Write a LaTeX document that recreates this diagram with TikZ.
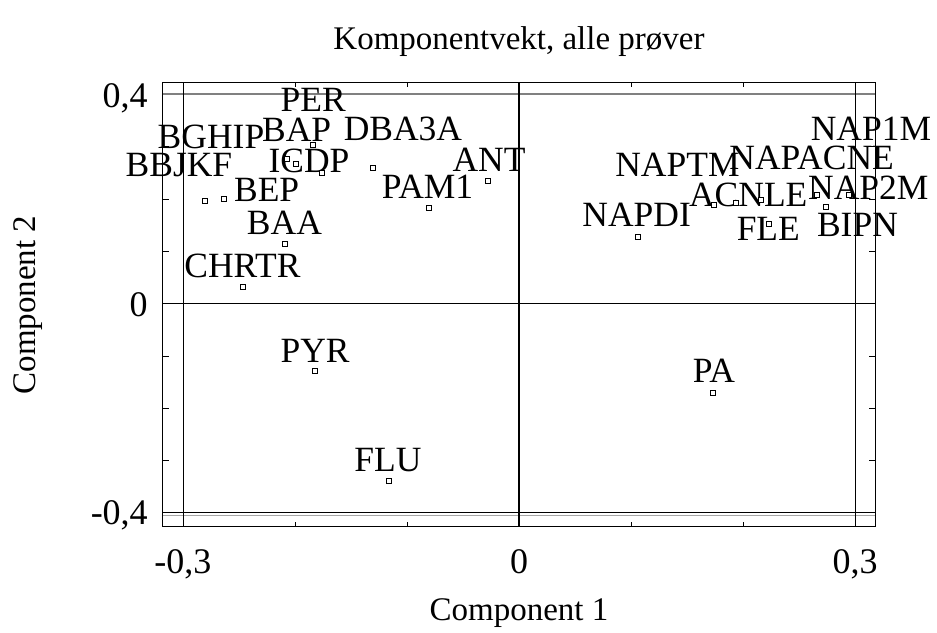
\documentclass[tikz,border=0pt]{standalone}
\usepackage{fontspec}
\setmainfont{Liberation Serif}

\tikzset{
  sq/.style={draw, fill=white, rectangle, minimum size=5pt, inner sep=0pt, line width=0.5pt},
  lbl/.style={anchor=base, inner sep=0pt, font=\fontsize{35.5}{36}\selectfont},
  ticklbl/.style={anchor=base, inner sep=0pt, font=\fontsize{36}{36}\selectfont},
  axlbl/.style={anchor=base, inner sep=0pt, font=\fontsize{33}{33}\selectfont},
}

\begin{document}
\begin{tikzpicture}[x=1120pt, y=523pt]
  \useasboundingbox (-0.46339,-0.62811) rectangle (0.37321,0.58031);

  \draw[line width=0.8pt] (-0.318,-0.427) rectangle (0.318,0.4235);
  \draw[gray, line width=1.6pt] (-0.318,0.4) -- (0.318,0.4);
  \draw[gray!70, line width=1.2pt] (-0.318,-0.406) -- (0.318,-0.406);
  \draw[line width=0.6pt] (-0.318,-0.4) -- (0.318,-0.4);
  \draw[line width=0.6pt] (-0.3,-0.427) -- (-0.3,0.4235) (0.3,-0.427) -- (0.3,0.4235);
  \draw[line width=1.4pt] (0,-0.427) -- (0,0.4235);
  \draw[line width=1.8pt] (-0.318,0) -- (0.318,0);
  \foreach \v in {-0.3,-0.2,-0.1,0.1,0.2,0.3}
    \draw[line width=0.6pt] (-0.318,\v) -- ++(6pt,0) (0.318,\v) -- ++(-6pt,0);
  \foreach \v in {-0.2,-0.1,0.1,0.2}
    \draw[line width=0.6pt] (\v,0.4235) -- ++(0,-5pt) (\v,-0.427) -- ++(0,5pt);

  \node[ticklbl] (xm3) at (-0.3,-0.5153) {-0,3};
  \node[ticklbl] (x0) at (0,-0.5153) {0};
  \node[ticklbl] (x3) at (0.3,-0.5153) {0,3};
  \node[ticklbl, anchor=base east] (y4) at (-0.3313,0.3757) {0,4};
  \node[ticklbl, anchor=base east] (y0) at (-0.3313,-0.0258) {0};
  \node[ticklbl, anchor=base east] (ym4) at (-0.3313,-0.4235) {-0,4};

  \node[axlbl] (title) at (0,0.4847) {Komponentvekt, alle prøver};
  \node[axlbl] (xlab) at (0,-0.6052) {Component 1};
  \node[axlbl, rotate=90] (ylab) at (-0.4321,-0.003) {Component 2};

  \foreach \n/\lx/\ly in {PER/-0.1837/0.3667, BGHIP/-0.2750/0.2967, BAP/-0.1985/0.3088,
      DBA3A/-0.1036/0.3126, ICDP/-0.1875/0.2505, BBJKF/-0.3036/0.2424, BEP/-0.2253/0.1946,
      BAA/-0.2094/0.1310, CHRTR/-0.2469/0.0488, PAM1/-0.0817/0.2011, ANT/-0.0268/0.2520,
      PYR/-0.1821/-0.1124, FLU/-0.1170/-0.3216, PA/0.1741/-0.1514, NAP1M/0.3143/0.3126,
      NAPACNE/0.2613/0.2553, NAPTM/0.1415/0.2424, NAP2M/0.3119/0.1979, ACNLE/0.2047/0.1851,
      NAPDI/0.1051/0.1468, FLE/0.2226/0.1201, BIPN/0.3022/0.1277}
    \node[lbl] (l-\n) at (\lx,\ly) {\n};

  \foreach \n/\px/\py in {BBJKF/-0.2804/0.1960, BEP/-0.2640/0.2011, BGHIP/-0.2074/0.2776,
      BAP/-0.1997/0.2681, ICDP/-0.1761/0.2509, PER/-0.1842/0.3036, DBA3A/-0.1310/0.2591,
      ANT/-0.0279/0.2348, PAM1/-0.0810/0.1839, BAA/-0.2089/0.1151, CHRTR/-0.2467/0.0315,
      PYR/-0.1828/-0.1285, FLU/-0.1167/-0.3394, PA/0.1726/-0.1698, NAPDI/0.1056/0.1277,
      NAPTM/0.1735/0.1883, ACNLE/0.1938/0.1927, NAPACNE/0.2161/0.1979, FLE/0.2226/0.1533,
      NAP2M/0.2658/0.2088, BIPN/0.2741/0.1845, NAP1M/0.2940/0.2088}
    \node[sq] (p-\n) at (\px,\py) {};
\end{tikzpicture}
\end{document}
